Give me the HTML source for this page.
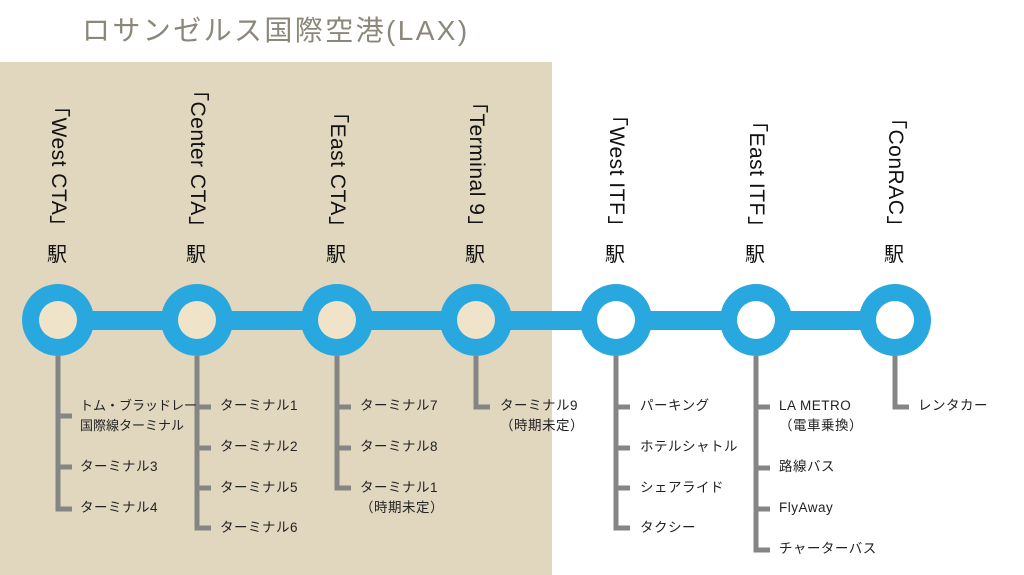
<!DOCTYPE html>
<html><head><meta charset="utf-8"><style>
body{margin:0;width:1024px;height:575px;position:relative;background:#fff;overflow:hidden;font-family:"Liberation Sans","Noto Sans CJK JP",sans-serif;}
.bg{position:absolute;left:0;top:62px;width:552px;height:513px;background:#e1d7bf;}
.title{position:absolute;left:82px;top:9px;font-size:28px;color:#8b877b;letter-spacing:2.4px;white-space:nowrap;}
.v{position:absolute;bottom:338px;writing-mode:vertical-rl;font-size:21px;color:#111;white-space:nowrap;line-height:24px;letter-spacing:0.5px;}
.eki{position:absolute;top:238px;font-size:20px;color:#111;}
.t{position:absolute;font-size:13.5px;color:#222;line-height:20px;white-space:nowrap;letter-spacing:0.5px;}
</style></head><body>
<div class="bg"></div>
<div class="title">ロサンゼルス国際空港(LAX)</div>
<svg width="1024" height="575" style="position:absolute;left:0;top:0">
<rect x="58" y="311" width="837" height="19" fill="#29a7df"/>
<g fill="#29a7df">
<circle cx="58" cy="320" r="36"/><circle cx="197" cy="320" r="36"/><circle cx="337" cy="320" r="36"/><circle cx="476" cy="320" r="36"/><circle cx="616" cy="320" r="36"/><circle cx="756" cy="320" r="36"/><circle cx="895" cy="320" r="36"/>
</g>
<g fill="#efe4c9"><circle cx="58" cy="320" r="19"/><circle cx="197" cy="320" r="19"/><circle cx="337" cy="320" r="19"/><circle cx="476" cy="320" r="19"/></g>
<g fill="#fff"><circle cx="616" cy="320" r="19"/><circle cx="756" cy="320" r="19"/><circle cx="895" cy="320" r="19"/></g>
<g stroke="#858585" stroke-width="5" fill="none">
<path d="M58 356V509H72M58 416H72M58 467H72"/>
<path d="M197 356V528H211M197 407H211M197 448H211M197 488H211"/>
<path d="M337 356V488H351M337 407H351M337 448H351"/>
<path d="M476 356V407H490"/>
<path d="M616 356V528H630M616 407H630M616 448H630M616 488H630"/>
<path d="M756 356V550H770M756 407H770M756 468H770M756 509H770"/>
<path d="M895 356V407H909"/>
</g>
</svg>
<div class="v" style="left:46px">「West CTA」</div>
<div class="v" style="left:185px">「Center CTA」</div>
<div class="v" style="left:325px">「East CTA」</div>
<div class="v" style="left:464px">「Terminal 9」</div>
<div class="v" style="left:604px">「West ITF」</div>
<div class="v" style="left:744px">「East ITF」</div>
<div class="v" style="left:883px">「ConRAC」</div>
<div class="eki" style="left:47px">駅</div><div class="eki" style="left:186px">駅</div><div class="eki" style="left:326px">駅</div><div class="eki" style="left:465px">駅</div><div class="eki" style="left:605px">駅</div><div class="eki" style="left:745px">駅</div><div class="eki" style="left:884px">駅</div>
<div class="t" style="left:80px;top:396px;font-size:13px;letter-spacing:0">トム・ブラッドレー<br>国際線ターミナル</div>
<div class="t" style="left:80px;top:457px">ターミナル3</div>
<div class="t" style="left:80px;top:498px">ターミナル4</div>
<div class="t" style="left:220px;top:396px">ターミナル1</div>
<div class="t" style="left:220px;top:437px">ターミナル2</div>
<div class="t" style="left:220px;top:478px">ターミナル5</div>
<div class="t" style="left:220px;top:518px">ターミナル6</div>
<div class="t" style="left:360px;top:396px">ターミナル7</div>
<div class="t" style="left:360px;top:437px">ターミナル8</div>
<div class="t" style="left:360px;top:478px">ターミナル1<br>（時期未定）</div>
<div class="t" style="left:500px;top:396px">ターミナル9<br>（時期未定）</div>
<div class="t" style="left:640px;top:396px">パーキング</div>
<div class="t" style="left:640px;top:437px">ホテルシャトル</div>
<div class="t" style="left:640px;top:478px">シェアライド</div>
<div class="t" style="left:640px;top:518px">タクシー</div>
<div class="t" style="left:779px;top:396px">LA METRO<br>（電車乗換）</div>
<div class="t" style="left:779px;top:457px">路線バス</div>
<div class="t" style="left:779px;top:498px">FlyAway</div>
<div class="t" style="left:779px;top:539px">チャーターバス</div>
<div class="t" style="left:918px;top:396px">レンタカー</div>
</body></html>
